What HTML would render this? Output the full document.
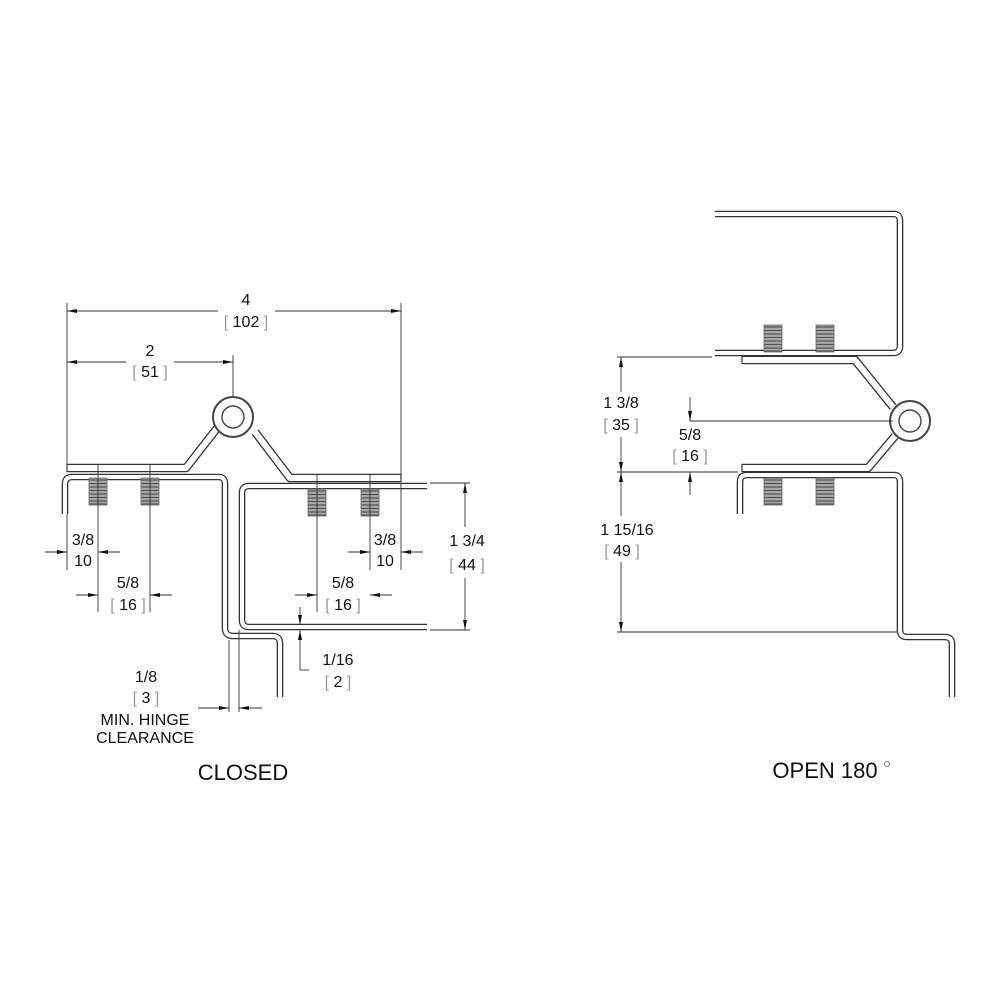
<!DOCTYPE html>
<html><head><meta charset="utf-8"><style>
html,body{margin:0;padding:0;background:#fff;}
svg{display:block;}
text{font-family:"Liberation Sans",sans-serif;fill:#111;}
</style></head><body>
<svg width="1000" height="1000" viewBox="0 0 1000 1000" xmlns="http://www.w3.org/2000/svg">
<defs>
<marker id="a" viewBox="0 0 10 4" refX="10" refY="2" markerWidth="10" markerHeight="4" orient="auto-start-reverse" markerUnits="userSpaceOnUse"><path d="M0,0 L10,2 L0,4 z" fill="#111"/></marker>
<g id="scr">
<rect x="0" y="0" width="18" height="27" fill="#aaa"/>
<path d="M0,2h18M0,5.5h18M0,9h18M0,12.5h18M0,16h18M0,19.5h18M0,23h18M0,26h18" stroke="#555" stroke-width="1.2"/>
<rect x="0" y="0" width="18" height="27" fill="none" stroke="#666" stroke-width="0.8"/>
</g>
</defs>

<g fill="none" stroke-linejoin="round" stroke-linecap="butt">
<path d="M65,514 V484 Q65,477 72,477 H219 Q225,477 225,484 V628 Q225,636 233,636 H273 Q280,636 280,644 V697" stroke="#333" stroke-width="6.6"/>
<path d="M65,514 V484 Q65,477 72,477 H219 Q225,477 225,484 V628 Q225,636 233,636 H273 Q280,636 280,644 V697" stroke="#fff" stroke-width="4"/>
<path d="M427,486 H249 Q242,486 242,493 V620 Q242,627 249,627 H427" stroke="#333" stroke-width="6.6"/>
<path d="M427,486 H249 Q242,486 242,493 V620 Q242,627 249,627 H427" stroke="#fff" stroke-width="4"/>
<path d="M67,468 H186 L218,427" stroke="#333" stroke-width="8.6"/>
<path d="M67,468 H186 L218,427" stroke="#fff" stroke-width="6"/>
<path d="M401,478 H290 L255,432" stroke="#333" stroke-width="8.6"/>
<path d="M401,478 H290 L255,432" stroke="#fff" stroke-width="6"/>
<line x1="67" y1="464" x2="67" y2="472" stroke="#333" stroke-width="1.2"/>
<line x1="401" y1="474" x2="401" y2="482" stroke="#333" stroke-width="1.2"/>
<circle cx="233" cy="417" r="20" fill="#fff" stroke="#444" stroke-width="2"/>
<circle cx="233" cy="417" r="11" fill="#fff" stroke="#444" stroke-width="1.4"/>

<path d="M715,214 H894 Q900,214 900,221 V346 Q900,353 893,353 H715" stroke="#333" stroke-width="6.6"/>
<path d="M715,214 H894 Q900,214 900,221 V346 Q900,353 893,353 H715" stroke="#fff" stroke-width="4"/>
<path d="M740,514 V482 Q740,475 747,475 H894 Q900,475 900,482 V630 Q900,637 907,637 H945 Q952,637 952,644 V697" stroke="#333" stroke-width="6.6"/>
<path d="M740,514 V482 Q740,475 747,475 H894 Q900,475 900,482 V630 Q900,637 907,637 H945 Q952,637 952,644 V697" stroke="#fff" stroke-width="4"/>
<path d="M742,360 H855 L893,407" stroke="#333" stroke-width="8.6"/>
<path d="M742,360 H855 L893,407" stroke="#fff" stroke-width="6"/>
<path d="M742,468 H868 L895,436" stroke="#333" stroke-width="8.6"/>
<path d="M742,468 H868 L895,436" stroke="#fff" stroke-width="6"/>
<line x1="742" y1="356" x2="742" y2="364" stroke="#333" stroke-width="1.2"/>
<line x1="742" y1="464" x2="742" y2="472" stroke="#333" stroke-width="1.2"/>
<circle cx="910" cy="421" r="20" fill="#fff" stroke="#444" stroke-width="2"/>
<circle cx="910" cy="421" r="11" fill="#fff" stroke="#444" stroke-width="1.4"/>
</g>

<use href="#scr" x="89" y="478"/><use href="#scr" x="141" y="478"/>
<use href="#scr" x="308" y="489"/><use href="#scr" x="361" y="489"/>
<use href="#scr" x="764" y="325"/><use href="#scr" x="816" y="325"/>
<use href="#scr" x="764" y="478"/><use href="#scr" x="816" y="478"/>

<g stroke="#333" stroke-width="0.9" fill="none">
<line x1="67" y1="303" x2="67" y2="466"/>
<line x1="401" y1="303" x2="401" y2="476"/>
<line x1="233" y1="355" x2="233" y2="397"/>
<line x1="98" y1="464" x2="98" y2="612"/>
<line x1="150" y1="464" x2="150" y2="612"/>
<line x1="317" y1="474" x2="317" y2="612"/>
<line x1="370" y1="474" x2="370" y2="570"/>
<line x1="67" y1="514" x2="67" y2="570"/>
<line x1="401" y1="484" x2="401" y2="570"/>
<line x1="430" y1="483" x2="470" y2="483"/>
<line x1="430" y1="630" x2="470" y2="630"/>
<line x1="229" y1="640" x2="229" y2="712"/>
<line x1="239" y1="630" x2="239" y2="712"/>
<line x1="67" y1="311" x2="218" y2="311" marker-start="url(#a)"/>
<line x1="275" y1="311" x2="401" y2="311" marker-end="url(#a)"/>
<line x1="67" y1="362" x2="126" y2="362" marker-start="url(#a)"/>
<line x1="174" y1="362" x2="233" y2="362" marker-end="url(#a)"/>
<line x1="45" y1="552" x2="67" y2="552" marker-end="url(#a)"/>
<line x1="120" y1="552" x2="98" y2="552" marker-end="url(#a)"/>
<line x1="76" y1="595" x2="98" y2="595" marker-end="url(#a)"/>
<line x1="172" y1="595" x2="150" y2="595" marker-end="url(#a)"/>
<line x1="348" y1="552" x2="370" y2="552" marker-end="url(#a)"/>
<line x1="423" y1="552" x2="401" y2="552" marker-end="url(#a)"/>
<line x1="295" y1="595" x2="317" y2="595" marker-end="url(#a)"/>
<line x1="392" y1="595" x2="370" y2="595" marker-end="url(#a)"/>
<line x1="465" y1="527" x2="465" y2="483" marker-end="url(#a)"/>
<line x1="465" y1="578" x2="465" y2="630" marker-end="url(#a)"/>
<line x1="300" y1="607" x2="300" y2="625" marker-end="url(#a)"/>
<line x1="300" y1="670" x2="300" y2="630" marker-end="url(#a)"/>
<line x1="300" y1="670" x2="309" y2="670"/>
<line x1="198" y1="708" x2="229" y2="708" marker-end="url(#a)"/>
<line x1="262" y1="708" x2="239" y2="708" marker-end="url(#a)"/>

<line x1="617" y1="357" x2="712" y2="357"/>
<line x1="617" y1="472" x2="738" y2="472"/>
<line x1="617" y1="632" x2="898" y2="632"/>
<line x1="690" y1="421" x2="893" y2="421"/>
<line x1="621" y1="392" x2="621" y2="357" marker-end="url(#a)"/>
<line x1="621" y1="437" x2="621" y2="472" marker-end="url(#a)"/>
<line x1="690" y1="397" x2="690" y2="421" marker-end="url(#a)"/>
<line x1="690" y1="495" x2="690" y2="472" marker-end="url(#a)"/>
<line x1="621" y1="472" x2="621" y2="516" marker-start="url(#a)"/>
<line x1="621" y1="562" x2="621" y2="632" marker-end="url(#a)"/>
</g>

<g font-size="16" text-anchor="middle">
<text x="246" y="305">4</text>
<text x="246" y="327"><tspan fill="#999">[ </tspan>102<tspan fill="#999"> ]</tspan></text>
<text x="150" y="356">2</text>
<text x="150" y="377"><tspan fill="#999">[ </tspan>51<tspan fill="#999"> ]</tspan></text>
<text x="83" y="545">3/8</text>
<text x="83" y="566">10</text>
<text x="128" y="588">5/8</text>
<text x="128" y="610"><tspan fill="#999">[ </tspan>16<tspan fill="#999"> ]</tspan></text>
<text x="385" y="545">3/8</text>
<text x="385" y="566">10</text>
<text x="343" y="588">5/8</text>
<text x="343" y="610"><tspan fill="#999">[ </tspan>16<tspan fill="#999"> ]</tspan></text>
<text x="467" y="546">1 3/4</text>
<text x="467" y="570"><tspan fill="#999">[ </tspan>44<tspan fill="#999"> ]</tspan></text>
<text x="338" y="665">1/16</text>
<text x="338" y="687"><tspan fill="#999">[ </tspan>2<tspan fill="#999"> ]</tspan></text>
<text x="146" y="682">1/8</text>
<text x="146" y="703"><tspan fill="#999">[ </tspan>3<tspan fill="#999"> ]</tspan></text>
<text x="145" y="725">MIN. HINGE</text>
<text x="145" y="743">CLEARANCE</text>
<text x="621" y="408">1 3/8</text>
<text x="621" y="430"><tspan fill="#999">[ </tspan>35<tspan fill="#999"> ]</tspan></text>
<text x="690" y="440">5/8</text>
<text x="690" y="461"><tspan fill="#999">[ </tspan>16<tspan fill="#999"> ]</tspan></text>
<text x="627" y="535">1 15/16</text>
<text x="622" y="556"><tspan fill="#999">[ </tspan>49<tspan fill="#999"> ]</tspan></text>
</g>
<text x="243" y="780" font-size="22" text-anchor="middle">CLOSED</text>
<text x="825" y="778" font-size="22" text-anchor="middle">OPEN 180</text>
<circle cx="887" cy="764" r="2.5" fill="none" stroke="#555" stroke-width="0.8"/>
</svg>
</body></html>
